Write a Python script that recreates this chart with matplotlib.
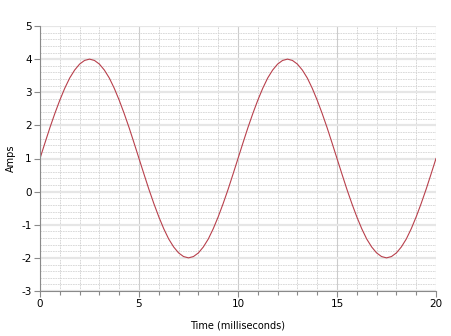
import matplotlib
matplotlib.use("Agg")
import matplotlib.pyplot as plt
from matplotlib.ticker import MultipleLocator

plt.rcParams['axes.unicode_minus'] = False

time_ms = [i * 0.25 for i in range(81)]
amps = [1.00, 1.47, 1.93, 2.36, 2.76, 3.12, 3.43, 3.67, 3.85, 3.96,
        4.00, 3.96, 3.85, 3.67, 3.43, 3.12, 2.76, 2.36, 1.93, 1.47,
        1.00, 0.53, 0.07, -0.36, -0.76, -1.12, -1.43, -1.67, -1.85, -1.96,
        -2.00, -1.96, -1.85, -1.67, -1.43, -1.12, -0.76, -0.36, 0.07, 0.53,
        1.00, 1.47, 1.93, 2.36, 2.76, 3.12, 3.43, 3.67, 3.85, 3.96,
        4.00, 3.96, 3.85, 3.67, 3.43, 3.12, 2.76, 2.36, 1.93, 1.47,
        1.00, 0.53, 0.07, -0.36, -0.76, -1.12, -1.43, -1.67, -1.85, -1.96,
        -2.00, -1.96, -1.85, -1.67, -1.43, -1.12, -0.76, -0.36, 0.07, 0.53,
        1.00]
x_label = "Time (milliseconds)"
y_label = "Amps"

fig = plt.figure(figsize=(4.52, 3.36), dpi=100)
ax = fig.add_axes([40/452, 1-291/336, (436-40)/452, (291-26)/336])

ax.set_xlim(0, 20)
ax.set_ylim(-3, 5)
ax.xaxis.set_major_locator(MultipleLocator(5))
ax.xaxis.set_minor_locator(MultipleLocator(1))
ax.yaxis.set_major_locator(MultipleLocator(1))
ax.yaxis.set_minor_locator(MultipleLocator(0.2))

# grid
ax.grid(which='major', axis='y', color='#e6e6e6', linewidth=1.6, linestyle='-')
ax.grid(which='minor', axis='y', color='#d4d4d4', linewidth=0.6, linestyle=(0, (2, 1)))
ax.grid(which='major', axis='x', color='#cccccc', linewidth=0.8, linestyle='-')
ax.grid(which='minor', axis='x', color='#d0d0d0', linewidth=0.6, linestyle=(0, (2, 1)))
ax.set_axisbelow(True)

ax.plot(time_ms, amps, color='#b8404c', linewidth=0.8)

for s in ['top', 'right']:
    ax.spines[s].set_visible(False)
for s in ['left', 'bottom']:
    ax.spines[s].set_color('#8a8a8a')
    ax.spines[s].set_linewidth(0.8)

ax.tick_params(which='major', length=4, width=0.8, color='#8a8a8a', labelsize=7.5, pad=2)
ax.tick_params(which='minor', length=3, width=0.8, color='#8a8a8a')
ax.tick_params(axis='y', which='minor', length=0)

ax.set_xlabel(x_label, fontsize=7)
ax.set_ylabel(y_label, fontsize=7)
ax.xaxis.set_label_coords(0.5, (291 - 326) / 265)
ax.xaxis.label.set_va('center')
ax.yaxis.set_label_coords((11 - 40) / 396, 0.5)
ax.yaxis.label.set_va('center')

fig.savefig("out.png", dpi=100)
